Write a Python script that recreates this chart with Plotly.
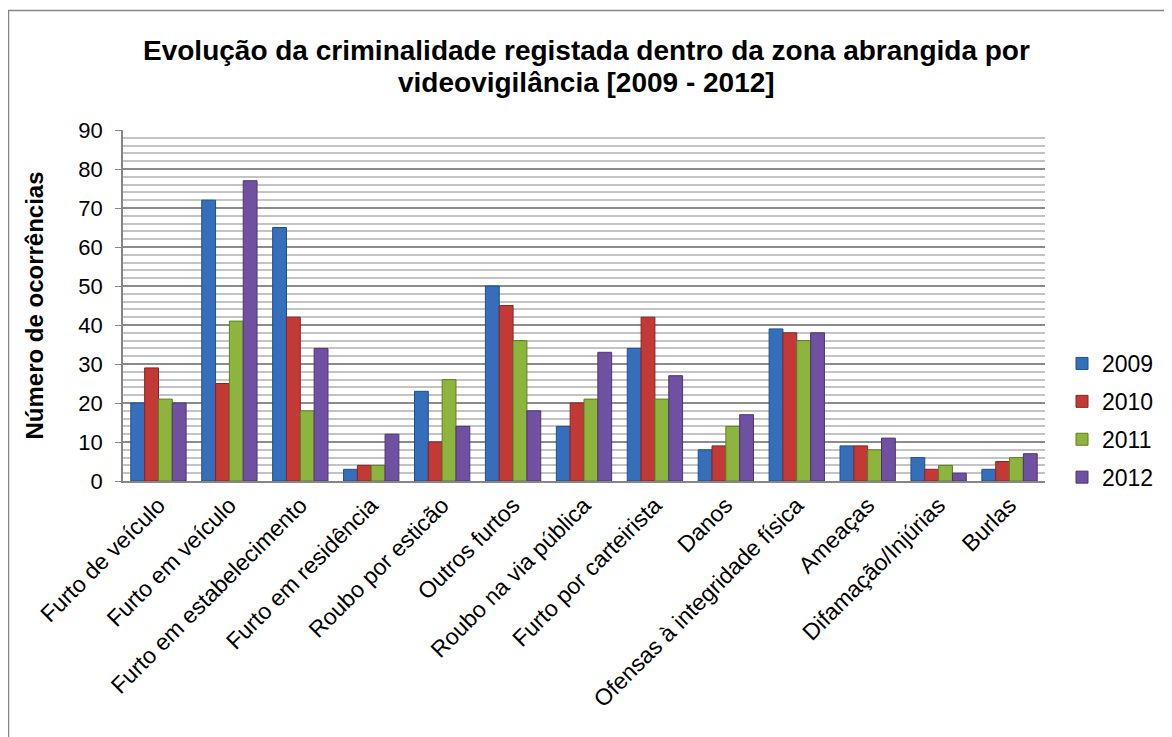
import plotly.graph_objects as go

categories = ["Furto de veículo", "Furto em veículo", "Furto em estabelecimento",
              "Furto em residência", "Roubo por esticão", "Outros furtos",
              "Roubo na via pública", "Furto por carteirista", "Danos",
              "Ofensas à integridade física", "Ameaças", "Difamação/Injúrias", "Burlas"]
years = ["2009", "2010", "2011", "2012"]
v2009 = [20, 72, 65, 3, 23, 50, 14, 34, 8, 39, 9, 6, 3]
v2010 = [29, 25, 42, 4, 10, 45, 20, 42, 9, 38, 9, 3, 5]
v2011 = [21, 41, 18, 4, 26, 36, 21, 21, 14, 36, 8, 4, 6]
v2012 = [20, 77, 34, 12, 14, 18, 33, 27, 17, 38, 11, 2, 7]
series = [v2009, v2010, v2011, v2012]
title_lines = ["Evolução da criminalidade registada dentro da zona abrangida por",
               "videovigilância [2009 - 2012]"]
colors = ["#356FBC", "#C23935", "#8DB43C", "#6F50A1"]
edges = ["#1F4F8A", "#8A2522", "#5F7F25", "#4E3675"]

OFF = 8  # page body margin
W, H = 1164, 729
# plot area in page pixels
PL, PR, PT, PB = 123, 1045, 130, 481
L, R, T, B = PL - OFF, PR - OFF, PT - OFF, PB - OFF

fig = go.Figure()
for yr, vals, c, e in zip(years, series, colors, edges):
    fig.add_trace(go.Bar(name=yr, x=categories, y=vals, legendgroup=yr,
                         marker=dict(color=c, line=dict(color=e, width=1))))

def px(x):
    return (x - PL) / (PR - PL)

def py(y):
    return (PB - y) / (PB - PT)

annotations = []
for line, ypos in zip(title_lines, [50, 82]):
    annotations.append(dict(text="<b>" + line + "</b>", xref="paper", yref="paper",
                            x=px(586), y=py(ypos), xanchor="center", yanchor="middle",
                            showarrow=False,
                            font=dict(size=28, family="Liberation Sans, Arial", color="black")))

fig.update_layout(
    width=W, height=H,
    margin=dict(l=L, r=W - R, t=T, b=H - B),
    paper_bgcolor="white", plot_bgcolor="white",
    barmode="group", bargap=0.22, bargroupgap=0.0,
    font=dict(family="Liberation Sans, Arial", color="black"),
    annotations=annotations,
    legend=dict(x=px(1062), xanchor="left", y=py(342), yanchor="top",
                font=dict(size=23), itemwidth=30, tracegroupgap=5,
                bgcolor="rgba(0,0,0,0)"),
    showlegend=True,
    shapes=[dict(type="rect", xref="paper", yref="paper", x0=px(8.5), x1=px(1300), y0=py(900), y1=py(10.5),
                 line=dict(color="#868686", width=1.5), fillcolor="rgba(0,0,0,0)", layer="below")],
)
fig.update_yaxes(range=[0, 90], dtick=10, tick0=0, showgrid=True, gridcolor="#8C8C8C", gridwidth=2,
                 minor=dict(dtick=2, tick0=0, showgrid=True, gridcolor="#C4C4C4", gridwidth=2),
                 showline=True, linecolor="#868686", linewidth=1.5, ticks="outside", ticklen=6,
                 tickcolor="#868686", tickfont=dict(size=22), ticklabelstandoff=8,
                 title=dict(text="<b>Número de ocorrências</b>", font=dict(size=24), standoff=28),
                 zeroline=False)
fig.update_xaxes(tickangle=-45, tickfont=dict(size=23), showline=True, linecolor="#868686", linewidth=1.5,
                 ticks="", showgrid=False)
fig.write_html("out.html")
